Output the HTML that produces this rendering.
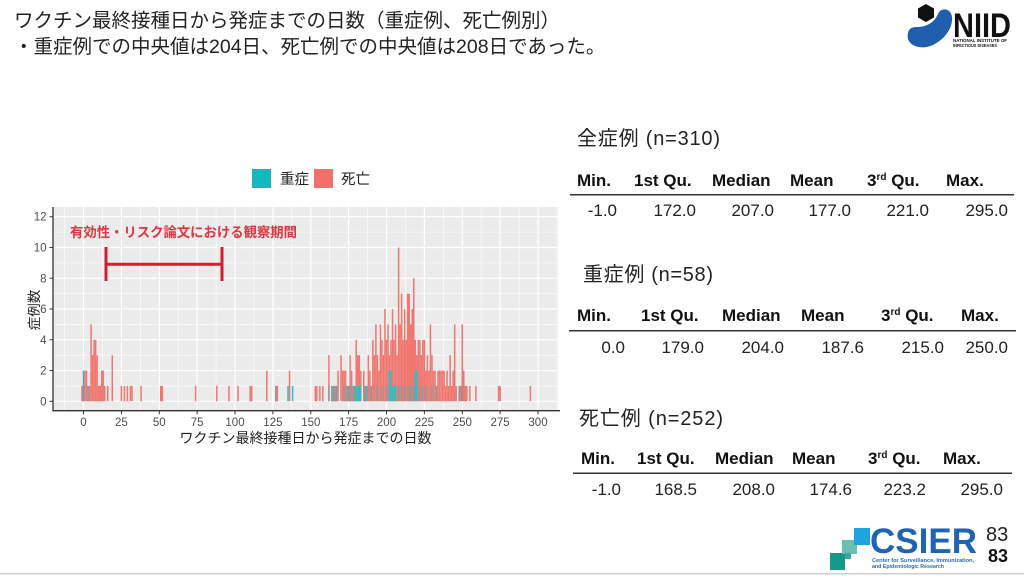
<!DOCTYPE html>
<html>
<head>
<meta charset="utf-8">
<style>
html,body{margin:0;padding:0;background:#fff;}
body{width:1024px;height:576px;overflow:hidden;}
svg{display:block;}
</style>
</head>
<body>
<svg width="1024" height="576" viewBox="0 0 1024 576" xmlns="http://www.w3.org/2000/svg" font-family="'Liberation Sans','Noto Sans CJK JP',sans-serif">
<rect x="0" y="0" width="1024" height="576" fill="#fff"/>

<!-- Title -->
<text x="14" y="27" font-size="19.5" fill="#222">ワクチン最終接種日から発症までの日数（重症例、死亡例別）</text>
<text x="14" y="53" font-size="19.5" fill="#222">・重症例での中央値は204日、死亡例での中央値は208日であった。</text>

<!-- NIID logo -->
<path d="M908 33 C905 45 920 51 933 45 C945 39 953 28 952 17 C951 8 941 7 938 14 C934 23 926 27 917 27 C911 27 909 29 908 33 Z" fill="#1f5fae"/>
<polygon points="926,4 934,8.5 934,17.5 926,22 918,17.5 918,8.5" fill="#111"/>
<text x="953" y="37" font-size="34" font-weight="bold" fill="#111" textLength="58" lengthAdjust="spacingAndGlyphs">NIID</text>
<text x="953" y="42" font-size="4.5" font-weight="bold" fill="#111" textLength="54" lengthAdjust="spacingAndGlyphs">NATIONAL INSTITUTE OF</text>
<text x="953" y="47" font-size="4.5" font-weight="bold" fill="#111" textLength="44" lengthAdjust="spacingAndGlyphs">INFECTIOUS DISEASES</text>

<!-- Legend -->
<rect x="252" y="169" width="19" height="19" fill="#13b9be"/>
<text x="280" y="184" font-size="14.5" fill="#222">重症</text>
<rect x="314" y="169" width="19" height="19" fill="#f3706a"/>
<text x="341" y="184" font-size="14.5" fill="#222">死亡</text>

<!-- Panel -->
<rect x="53" y="207" width="505" height="203.7" fill="#ebebeb"/>
<g stroke="#fff" stroke-width="0.6">
<line x1="53" x2="558" y1="385.92" y2="385.92"/>
<line x1="53" x2="558" y1="355.16" y2="355.16"/>
<line x1="53" x2="558" y1="324.4" y2="324.4"/>
<line x1="53" x2="558" y1="293.64" y2="293.64"/>
<line x1="53" x2="558" y1="262.88" y2="262.88"/>
<line x1="53" x2="558" y1="232.12" y2="232.12"/>
<line y1="207" y2="410.7" x1="64.6" x2="64.6"/>
<line y1="207" y2="410.7" x1="102.4" x2="102.4"/>
<line y1="207" y2="410.7" x1="140.3" x2="140.3"/>
<line y1="207" y2="410.7" x1="178.2" x2="178.2"/>
<line y1="207" y2="410.7" x1="216.1" x2="216.1"/>
<line y1="207" y2="410.7" x1="253.9" x2="253.9"/>
<line y1="207" y2="410.7" x1="291.8" x2="291.8"/>
<line y1="207" y2="410.7" x1="329.7" x2="329.7"/>
<line y1="207" y2="410.7" x1="367.6" x2="367.6"/>
<line y1="207" y2="410.7" x1="405.4" x2="405.4"/>
<line y1="207" y2="410.7" x1="443.3" x2="443.3"/>
<line y1="207" y2="410.7" x1="481.2" x2="481.2"/>
<line y1="207" y2="410.7" x1="519.1" x2="519.1"/>
<line y1="207" y2="410.7" x1="556.9" x2="556.9"/>
</g>
<g stroke="#fff" stroke-width="1.2">
<line x1="53" x2="558" y1="401.3" y2="401.3"/>
<line x1="53" x2="558" y1="370.54" y2="370.54"/>
<line x1="53" x2="558" y1="339.78" y2="339.78"/>
<line x1="53" x2="558" y1="309.02" y2="309.02"/>
<line x1="53" x2="558" y1="278.26" y2="278.26"/>
<line x1="53" x2="558" y1="247.5" y2="247.5"/>
<line x1="53" x2="558" y1="216.74" y2="216.74"/>
<line y1="207" y2="410.7" x1="83.5" x2="83.5"/>
<line y1="207" y2="410.7" x1="121.4" x2="121.4"/>
<line y1="207" y2="410.7" x1="159.3" x2="159.3"/>
<line y1="207" y2="410.7" x1="197.1" x2="197.1"/>
<line y1="207" y2="410.7" x1="235" x2="235"/>
<line y1="207" y2="410.7" x1="272.9" x2="272.9"/>
<line y1="207" y2="410.7" x1="310.8" x2="310.8"/>
<line y1="207" y2="410.7" x1="348.6" x2="348.6"/>
<line y1="207" y2="410.7" x1="386.5" x2="386.5"/>
<line y1="207" y2="410.7" x1="424.4" x2="424.4"/>
<line y1="207" y2="410.7" x1="462.3" x2="462.3"/>
<line y1="207" y2="410.7" x1="500.1" x2="500.1"/>
<line y1="207" y2="410.7" x1="538" x2="538"/>
</g>

<!-- Bars (data coordinates: x=day, y=count) -->
<g transform="translate(83.5,401.3) scale(1.515,-15.38)">
<g fill="#f0766f">
<rect x="-1.5" y="0" width="1" height="1"/>
<rect x="-0.5" y="0" width="1" height="1"/>
<rect x="0.5" y="0" width="1" height="2"/>
<rect x="1.5" y="0" width="1" height="2"/>
<rect x="2.5" y="0" width="1" height="1"/>
<rect x="3.5" y="0" width="1" height="1"/>
<rect x="4.5" y="0" width="1" height="5"/>
<rect x="5.5" y="0" width="1" height="3"/>
<rect x="6.5" y="0" width="1" height="4"/>
<rect x="7.5" y="0" width="1" height="4"/>
<rect x="8.5" y="0" width="1" height="3"/>
<rect x="9.5" y="0" width="1" height="1"/>
<rect x="10.5" y="0" width="1" height="1"/>
<rect x="11.5" y="0" width="1" height="2"/>
<rect x="12.5" y="0" width="1" height="2"/>
<rect x="13.5" y="0" width="1" height="1"/>
<rect x="15.5" y="0" width="1" height="1"/>
<rect x="18.5" y="0" width="1" height="3"/>
<rect x="24.5" y="0" width="1" height="1"/>
<rect x="26.5" y="0" width="1" height="1"/>
<rect x="28.5" y="0" width="1" height="1"/>
<rect x="30.5" y="0" width="1" height="1"/>
<rect x="31.5" y="0" width="1" height="1"/>
<rect x="37.5" y="0" width="1" height="1"/>
<rect x="50.5" y="0" width="1" height="1"/>
<rect x="51.5" y="0" width="1" height="1"/>
<rect x="73.5" y="0" width="1" height="1"/>
<rect x="87.5" y="0" width="1" height="1"/>
<rect x="95.5" y="0" width="1" height="1"/>
<rect x="101.5" y="0" width="1" height="1"/>
<rect x="109.5" y="0" width="1" height="1"/>
<rect x="110.5" y="0" width="1" height="1"/>
<rect x="120.5" y="0" width="1" height="2"/>
<rect x="126.5" y="0" width="1" height="1"/>
<rect x="127.5" y="0" width="1" height="1"/>
<rect x="135.5" y="0" width="1" height="2"/>
<rect x="152.5" y="0" width="1" height="1"/>
<rect x="153.5" y="0" width="1" height="1"/>
<rect x="155.5" y="0" width="1" height="1"/>
<rect x="157.5" y="0" width="1" height="1"/>
<rect x="161.5" y="0" width="1" height="3"/>
<rect x="163.5" y="0" width="1" height="1"/>
<rect x="164.5" y="0" width="1" height="1"/>
<rect x="165.5" y="0" width="1" height="1"/>
<rect x="166.5" y="0" width="1" height="1"/>
<rect x="167.5" y="0" width="1" height="2"/>
<rect x="169.5" y="0" width="1" height="3"/>
<rect x="170.5" y="0" width="1" height="2"/>
<rect x="171.5" y="0" width="1" height="2"/>
<rect x="172.5" y="0" width="1" height="2"/>
<rect x="173.5" y="0" width="1" height="1"/>
<rect x="174.5" y="0" width="1" height="1"/>
<rect x="175.5" y="0" width="1" height="3"/>
<rect x="176.5" y="0" width="1" height="2"/>
<rect x="177.5" y="0" width="1" height="1"/>
<rect x="178.5" y="0" width="1" height="1"/>
<rect x="179.5" y="0" width="1" height="4"/>
<rect x="180.5" y="0" width="1" height="3"/>
<rect x="181.5" y="0" width="1" height="3"/>
<rect x="182.5" y="0" width="1" height="2"/>
<rect x="184.5" y="0" width="1" height="2"/>
<rect x="185.5" y="0" width="1" height="1"/>
<rect x="187.5" y="0" width="1" height="3"/>
<rect x="188.5" y="0" width="1" height="2"/>
<rect x="189.5" y="0" width="1" height="1"/>
<rect x="190.5" y="0" width="1" height="4"/>
<rect x="191.5" y="0" width="1" height="3"/>
<rect x="192.5" y="0" width="1" height="5"/>
<rect x="193.5" y="0" width="1" height="3"/>
<rect x="194.5" y="0" width="1" height="2"/>
<rect x="195.5" y="0" width="1" height="5"/>
<rect x="196.5" y="0" width="1" height="4"/>
<rect x="197.5" y="0" width="1" height="3"/>
<rect x="198.5" y="0" width="1" height="6"/>
<rect x="199.5" y="0" width="1" height="4"/>
<rect x="200.5" y="0" width="1" height="5"/>
<rect x="201.5" y="0" width="1" height="3"/>
<rect x="202.5" y="0" width="1" height="4"/>
<rect x="203.5" y="0" width="1" height="6"/>
<rect x="204.5" y="0" width="1" height="4"/>
<rect x="205.5" y="0" width="1" height="5"/>
<rect x="206.5" y="0" width="1" height="3"/>
<rect x="207.5" y="0" width="1" height="10"/>
<rect x="208.5" y="0" width="1" height="5"/>
<rect x="209.5" y="0" width="1" height="7"/>
<rect x="210.5" y="0" width="1" height="4"/>
<rect x="211.5" y="0" width="1" height="6"/>
<rect x="212.5" y="0" width="1" height="4"/>
<rect x="213.5" y="0" width="1" height="7"/>
<rect x="214.5" y="0" width="1" height="7"/>
<rect x="215.5" y="0" width="1" height="5"/>
<rect x="216.5" y="0" width="1" height="6"/>
<rect x="217.5" y="0" width="1" height="8"/>
<rect x="218.5" y="0" width="1" height="4"/>
<rect x="219.5" y="0" width="1" height="3"/>
<rect x="220.5" y="0" width="1" height="4"/>
<rect x="221.5" y="0" width="1" height="4"/>
<rect x="222.5" y="0" width="1" height="3"/>
<rect x="223.5" y="0" width="1" height="4"/>
<rect x="224.5" y="0" width="1" height="4"/>
<rect x="225.5" y="0" width="1" height="2"/>
<rect x="226.5" y="0" width="1" height="3"/>
<rect x="227.5" y="0" width="1" height="2"/>
<rect x="228.5" y="0" width="1" height="5"/>
<rect x="229.5" y="0" width="1" height="3"/>
<rect x="230.5" y="0" width="1" height="2"/>
<rect x="231.5" y="0" width="1" height="2"/>
<rect x="232.5" y="0" width="1" height="1"/>
<rect x="233.5" y="0" width="1" height="2"/>
<rect x="234.5" y="0" width="1" height="2"/>
<rect x="235.5" y="0" width="1" height="2"/>
<rect x="236.5" y="0" width="1" height="2"/>
<rect x="237.5" y="0" width="1" height="2"/>
<rect x="238.5" y="0" width="1" height="1"/>
<rect x="239.5" y="0" width="1" height="2"/>
<rect x="240.5" y="0" width="1" height="1"/>
<rect x="241.5" y="0" width="1" height="3"/>
<rect x="242.5" y="0" width="1" height="1"/>
<rect x="243.5" y="0" width="1" height="2"/>
<rect x="244.5" y="0" width="1" height="5"/>
<rect x="245.5" y="0" width="1" height="1"/>
<rect x="247.5" y="0" width="1" height="1"/>
<rect x="248.5" y="0" width="1" height="1"/>
<rect x="249.5" y="0" width="1" height="5"/>
<rect x="250.5" y="0" width="1" height="2"/>
<rect x="251.5" y="0" width="1" height="1"/>
<rect x="252.5" y="0" width="1" height="1"/>
<rect x="254.5" y="0" width="1" height="1"/>
<rect x="258.5" y="0" width="1" height="1"/>
<rect x="273.5" y="0" width="1" height="1"/>
<rect x="274.5" y="0" width="1" height="1"/>
<rect x="294.5" y="0" width="1" height="1"/>
</g>
<g fill="#8a9a99">
<rect x="2.5" y="0" width="1" height="1"/>
<rect x="126.5" y="0" width="1" height="1"/>
<rect x="161.5" y="0" width="1" height="1"/>
<rect x="163.5" y="0" width="1" height="1"/>
<rect x="164.5" y="0" width="1" height="1"/>
<rect x="165.5" y="0" width="1" height="1"/>
<rect x="166.5" y="0" width="1" height="1"/>
<rect x="171.5" y="0" width="1" height="1"/>
<rect x="173.5" y="0" width="1" height="1"/>
<rect x="174.5" y="0" width="1" height="1"/>
<rect x="175.5" y="0" width="1" height="1"/>
<rect x="177.5" y="0" width="1" height="1"/>
<rect x="178.5" y="0" width="1" height="1"/>
<rect x="185.5" y="0" width="1" height="1"/>
<rect x="189.5" y="0" width="1" height="1"/>
<rect x="193.5" y="0" width="1" height="1"/>
<rect x="196.5" y="0" width="1" height="1"/>
<rect x="199.5" y="0" width="1" height="1"/>
<rect x="207.5" y="0" width="1" height="1"/>
<rect x="209.5" y="0" width="1" height="1"/>
<rect x="211.5" y="0" width="1" height="1"/>
<rect x="214.5" y="0" width="1" height="1"/>
<rect x="215.5" y="0" width="1" height="1"/>
<rect x="217.5" y="0" width="1" height="1"/>
<rect x="221.5" y="0" width="1" height="1"/>
<rect x="223.5" y="0" width="1" height="1"/>
<rect x="225.5" y="0" width="1" height="1"/>
<rect x="229.5" y="0" width="1" height="1"/>
<rect x="232.5" y="0" width="1" height="1"/>
<rect x="247.5" y="0" width="1" height="1"/>
<rect x="249.5" y="0" width="1" height="1"/>
</g>
<g fill="#33bcc2">
<rect x="-0.5" y="0" width="1" height="2" fill="#5a9fbd"/>
<rect x="134.5" y="0" width="1" height="1"/>
<rect x="137.5" y="0" width="1" height="1"/>
<rect x="179.5" y="0" width="1" height="1"/>
<rect x="180.5" y="0" width="1" height="1"/>
<rect x="181.5" y="0" width="1" height="1"/>
<rect x="182.5" y="0" width="1" height="1"/>
<rect x="186.5" y="0" width="1" height="1"/>
<rect x="201.5" y="0" width="1" height="2"/>
<rect x="202.5" y="0" width="1" height="2"/>
<rect x="203.5" y="0" width="1" height="1"/>
<rect x="204.5" y="0" width="1" height="1"/>
<rect x="205.5" y="0" width="1" height="1"/>
<rect x="218.5" y="0" width="1" height="2"/>
<rect x="219.5" y="0" width="1" height="2"/>
</g>
</g>

<!-- Annotation -->
<text x="70" y="237" font-size="13.5" font-weight="bold" fill="#e0343f" textLength="227" lengthAdjust="spacingAndGlyphs">有効性・リスク論文における観察期間</text>
<g stroke="#d0202f" stroke-width="3">
<line x1="106" y1="264.3" x2="222" y2="264.3"/>
<line x1="106" y1="247" x2="106" y2="281"/>
<line x1="222" y1="247" x2="222" y2="281"/>
</g>

<!-- Axes -->
<g stroke="#333" stroke-width="1.3">
<line x1="53" y1="207" x2="53" y2="411.3"/>
<line x1="52.4" y1="410.7" x2="560" y2="410.7"/>
</g>
<g stroke="#333" stroke-width="1">
<line x1="49.5" x2="53" y1="401.3" y2="401.3"/>
<line x1="49.5" x2="53" y1="370.54" y2="370.54"/>
<line x1="49.5" x2="53" y1="339.78" y2="339.78"/>
<line x1="49.5" x2="53" y1="309.02" y2="309.02"/>
<line x1="49.5" x2="53" y1="278.26" y2="278.26"/>
<line x1="49.5" x2="53" y1="247.5" y2="247.5"/>
<line x1="49.5" x2="53" y1="216.74" y2="216.74"/>
<line y1="410.7" y2="414.2" x1="83.5" x2="83.5"/>
<line y1="410.7" y2="414.2" x1="121.4" x2="121.4"/>
<line y1="410.7" y2="414.2" x1="159.3" x2="159.3"/>
<line y1="410.7" y2="414.2" x1="197.1" x2="197.1"/>
<line y1="410.7" y2="414.2" x1="235" x2="235"/>
<line y1="410.7" y2="414.2" x1="272.9" x2="272.9"/>
<line y1="410.7" y2="414.2" x1="310.8" x2="310.8"/>
<line y1="410.7" y2="414.2" x1="348.6" x2="348.6"/>
<line y1="410.7" y2="414.2" x1="386.5" x2="386.5"/>
<line y1="410.7" y2="414.2" x1="424.4" x2="424.4"/>
<line y1="410.7" y2="414.2" x1="462.3" x2="462.3"/>
<line y1="410.7" y2="414.2" x1="500.1" x2="500.1"/>
<line y1="410.7" y2="414.2" x1="538" x2="538"/>
</g>
<g font-size="11.5" fill="#4d4d4d" text-anchor="end">
<text x="46.5" y="405.3">0</text>
<text x="46.5" y="374.5">2</text>
<text x="46.5" y="343.8">4</text>
<text x="46.5" y="313">6</text>
<text x="46.5" y="282.3">8</text>
<text x="46.5" y="251.5">10</text>
<text x="46.5" y="220.7">12</text>
</g>
<g font-size="11.5" fill="#4d4d4d" text-anchor="middle">
<text x="83.5" y="426">0</text>
<text x="121.4" y="426">25</text>
<text x="159.3" y="426">50</text>
<text x="197.1" y="426">75</text>
<text x="235" y="426">100</text>
<text x="272.9" y="426">125</text>
<text x="310.8" y="426">150</text>
<text x="348.6" y="426">175</text>
<text x="386.5" y="426">200</text>
<text x="424.4" y="426">225</text>
<text x="462.3" y="426">250</text>
<text x="500.1" y="426">275</text>
<text x="538" y="426">300</text>
</g>
<text x="305.5" y="443" font-size="14" fill="#222" text-anchor="middle">ワクチン最終接種日から発症までの日数</text>
<text transform="translate(39,310) rotate(-90)" font-size="13.5" fill="#222" text-anchor="middle">症例数</text>

<!-- Table 1 -->
<text x="577" y="145" font-size="20" fill="#222" textLength="143" lengthAdjust="spacing">全症例 (n=310)</text>
<g font-size="17" font-weight="bold" fill="#111">
<text x="577" y="186">Min.</text>
<text x="634" y="186">1st Qu.</text>
<text x="712" y="186">Median</text>
<text x="790" y="186">Mean</text>
<text x="867" y="186">3<tspan font-size="10" dy="-6">rd</tspan><tspan dy="6"> Qu.</tspan></text>
<text x="946" y="186">Max.</text>
</g>
<rect x="570" y="194" width="444" height="1.5" fill="#333"/>
<g font-size="17" fill="#222" text-anchor="end">
<text x="617" y="216">-1.0</text>
<text x="696" y="216">172.0</text>
<text x="774" y="216">207.0</text>
<text x="851" y="216">177.0</text>
<text x="929" y="216">221.0</text>
<text x="1008" y="216">295.0</text>
</g>

<!-- Table 2 -->
<text x="583" y="281" font-size="20" fill="#222" textLength="130" lengthAdjust="spacing">重症例 (n=58)</text>
<g font-size="17" font-weight="bold" fill="#111">
<text x="577" y="321">Min.</text>
<text x="641" y="321">1st Qu.</text>
<text x="722" y="321">Median</text>
<text x="801" y="321">Mean</text>
<text x="881" y="321">3<tspan font-size="10" dy="-6">rd</tspan><tspan dy="6"> Qu.</tspan></text>
<text x="961" y="321">Max.</text>
</g>
<rect x="569" y="330" width="447" height="1.5" fill="#333"/>
<g font-size="17" fill="#222" text-anchor="end">
<text x="625" y="353">0.0</text>
<text x="704" y="353">179.0</text>
<text x="784" y="353">204.0</text>
<text x="864" y="353">187.6</text>
<text x="944" y="353">215.0</text>
<text x="1008" y="353">250.0</text>
</g>

<!-- Table 3 -->
<text x="579" y="425" font-size="20" fill="#222" textLength="144" lengthAdjust="spacing">死亡例 (n=252)</text>
<g font-size="17" font-weight="bold" fill="#111">
<text x="581" y="464">Min.</text>
<text x="637" y="464">1st Qu.</text>
<text x="715" y="464">Median</text>
<text x="792" y="464">Mean</text>
<text x="868" y="464">3<tspan font-size="10" dy="-6">rd</tspan><tspan dy="6"> Qu.</tspan></text>
<text x="943" y="464">Max.</text>
</g>
<rect x="573" y="472.5" width="439" height="1.5" fill="#333"/>
<g font-size="17" fill="#222" text-anchor="end">
<text x="621" y="495">-1.0</text>
<text x="697" y="495">168.5</text>
<text x="775" y="495">208.0</text>
<text x="852" y="495">174.6</text>
<text x="926" y="495">223.2</text>
<text x="1003" y="495">295.0</text>
</g>

<!-- CSIER logo -->
<rect x="830" y="553" width="15" height="17" fill="#16988a"/>
<rect x="842" y="540" width="15" height="14" fill="#6cbfb4"/>
<rect x="845" y="553" width="6" height="6" fill="#3aa99d"/>
<rect x="854" y="528" width="16" height="17" fill="#1fa4e0"/>
<text x="870" y="553" font-size="35" font-weight="bold" fill="#1f63b3" textLength="107" lengthAdjust="spacingAndGlyphs">CSIER</text>
<text x="872" y="562" font-size="5.5" font-weight="bold" fill="#2b6bb6" textLength="102" lengthAdjust="spacingAndGlyphs">Center for Surveillance, Immunization,</text>
<text x="872" y="568" font-size="5.5" font-weight="bold" fill="#2b6bb6" textLength="72" lengthAdjust="spacingAndGlyphs">and Epidemiologic Research</text>
<text x="986" y="541" font-size="20" fill="#222">83</text>
<text x="988" y="562" font-size="18" font-weight="bold" fill="#111">83</text>

<rect x="0" y="573" width="1024" height="1.5" fill="#cfcfcf"/>
</svg>
</body>
</html>
